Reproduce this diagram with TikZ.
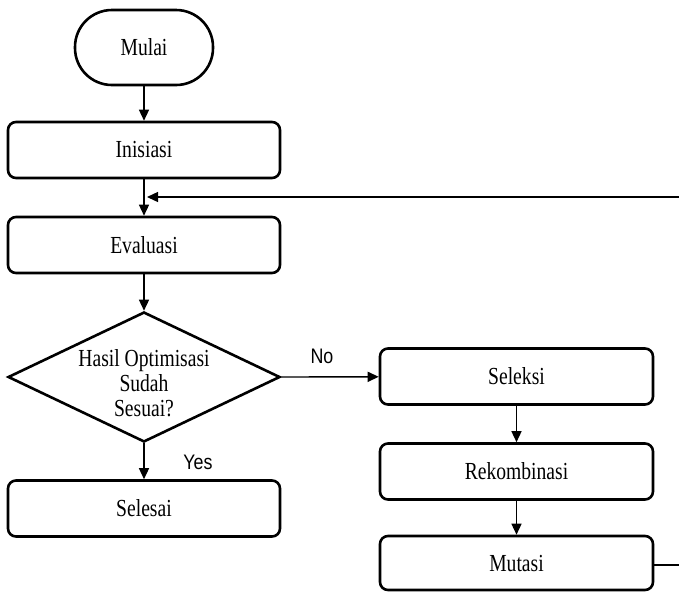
\documentclass[tikz,border=0pt]{standalone}
\usepackage{fontspec}
\setmainfont{Liberation Serif}[FakeStretch=0.8]
\newfontfamily\lblfont{Liberation Sans}[FakeStretch=0.85]
\usetikzlibrary{shapes.geometric,arrows.meta}
\begin{document}
\begin{tikzpicture}[x=1pt,y=-1pt,
  box/.style={draw,line width=2.6pt,rounded corners=8pt,minimum width=272pt,minimum height=56pt,font=\fontsize{24.5}{26}\selectfont,inner sep=0pt},
  term/.style={draw,line width=2.6pt,rounded corners=37pt,minimum width=138pt,minimum height=75pt,font=\fontsize{24.5}{26}\selectfont,inner sep=0pt},
  dec/.style={draw,line width=2.6pt,diamond,minimum width=272pt,minimum height=130pt,inner sep=0pt,aspect=2.09},
  conn/.style={line width=1.4pt,-{Triangle[length=11pt,width=10pt]}},
  plain/.style={line width=1.4pt},
  lbl/.style={font=\lblfont\fontsize{21}{23}\selectfont,inner sep=0pt}]
\useasboundingbox (0,0) rectangle (679,592);
\node[term] (mulai) at (144,47.5) {Mulai};
\node[box] (inisiasi) at (144,150) {Inisiasi};
\node[box] (evaluasi) at (144,245) {Evaluasi};
\node[dec] (cek) at (144,377) {};
\node[font=\fontsize{24.5}{25}\selectfont,align=center,inner sep=0pt] (cektext) at (144,383) {Hasil Optimisasi\\Sudah\\Sesuai?};
\node[box] (selesai) at (144,508.5) {Selesai};
\node[box,minimum width=273pt] (seleksi) at (516.5,376.5) {Seleksi};
\node[box,minimum width=273pt] (rekom) at (516.5,471.5) {Rekombinasi};
\node[box,minimum width=273pt,minimum height=54pt] (mutasi) at (516.5,563) {Mutasi};
\node[lbl] (no) at (322,356) {No};
\node[lbl] (yes) at (198,462) {Yes};
\coordinate (fbin) at (145,197);
\coordinate (fbright) at (679,197);
\coordinate (mutout) at (679,565);
\draw[conn] (mulai) -- (inisiasi);
\draw[conn] (inisiasi) -- (evaluasi);
\draw[conn] (evaluasi) -- (cek.north);
\draw[conn] (cek.south) -- (selesai);
\draw[conn] (cek.east) -- (seleksi);
\draw[conn] (seleksi) -- (rekom);
\draw[conn] (rekom) -- (mutasi);
\draw[plain] (mutasi.east |- mutout) -- (mutout);
\draw[conn] (fbright) -- ([xshift=2pt]fbin);
\end{tikzpicture}
\end{document}
